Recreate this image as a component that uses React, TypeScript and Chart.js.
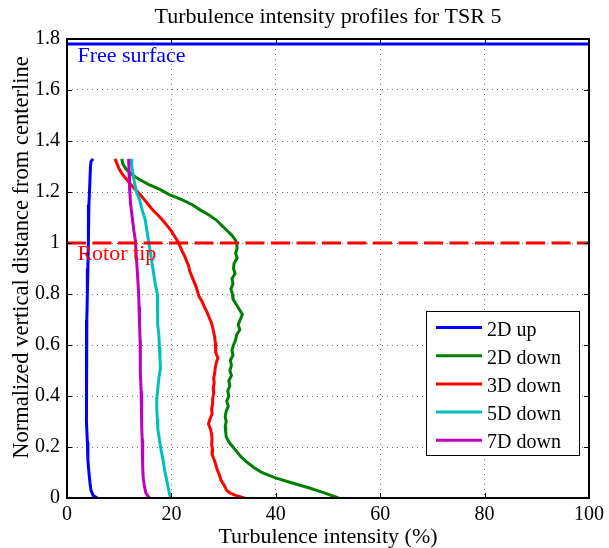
import { useEffect, useRef } from "react";
import { Chart, registerables } from "chart.js";

Chart.register(...registerables);

const chartTitle = "Turbulence intensity profiles for TSR 5";
const xAxisLabel = "Turbulence intensity (%)";
const yAxisLabel = "Normalized vertical distance from centerline";

const seriesLabels = ["2D up", "2D down", "3D down", "5D down", "7D down"];
const seriesColors = ["#0000ff", "#008000", "#ff0000", "#00bfbf", "#bf00bf"];

const up2dY = [1.33, 1.32, 1.3, 1.25, 1.15, 1.01, 0.9, 0.8, 0.7, 0.6, 0.5, 0.4, 0.3, 0.22, 0.15, 0.1, 0.06, 0.03, 0.01, 0];
const up2dX = [5.0, 4.6, 4.5, 4.4, 4.2, 4.1, 4.0, 3.9, 3.8, 3.7, 3.7, 3.7, 3.8, 3.9, 4.0, 4.2, 4.4, 4.6, 5.0, 5.8];

const down2dY = [1.33, 1.31, 1.29, 1.27, 1.25, 1.23, 1.21, 1.19, 1.17, 1.15, 1.13, 1.11, 1.09, 1.07, 1.05, 1.03, 1.01, 1.0,
  0.98, 0.96, 0.94, 0.92, 0.9, 0.88, 0.86, 0.84, 0.82, 0.8, 0.78, 0.76, 0.74, 0.72, 0.7, 0.68, 0.66, 0.64, 0.62, 0.6,
  0.58, 0.56, 0.54, 0.52, 0.5, 0.48, 0.46, 0.44, 0.42, 0.4, 0.38, 0.36, 0.34, 0.32, 0.3, 0.28, 0.26, 0.24, 0.22, 0.2,
  0.18, 0.16, 0.14, 0.12, 0.1, 0.08, 0.06, 0.04, 0.02, 0];
const down2dX = [10.5, 10.7, 11.3, 12.3, 13.8, 15.6, 17.8, 19.6, 22.0, 24.0, 25.5, 27.2, 28.6, 29.6, 30.6, 31.6, 32.3, 32.5,
  32.6, 32.3, 32.6, 32.0, 31.9, 32.2, 31.6, 31.8, 31.4, 31.7, 31.8, 32.4, 33.0, 33.6, 33.2, 32.8, 33.1, 32.5, 32.3, 31.9,
  31.6, 31.8, 31.3, 31.5, 31.2, 31.5, 31.0, 31.2, 30.8, 31.0, 30.6, 30.9, 30.5, 30.3, 30.5, 30.3, 30.4, 30.5, 31.0, 31.8,
  32.6, 33.4, 34.5, 35.8, 37.3, 39.8, 43.0, 46.3, 49.3, 52.0];

const down3dY = [1.33, 1.31, 1.29, 1.27, 1.25, 1.23, 1.21, 1.19, 1.17, 1.15, 1.13, 1.11, 1.09, 1.07, 1.05, 1.03, 1.01,
  0.99, 0.97, 0.95, 0.93, 0.91, 0.89, 0.87, 0.85, 0.83, 0.81, 0.79, 0.77, 0.75, 0.73, 0.71, 0.69, 0.67, 0.65, 0.63, 0.61,
  0.59, 0.57, 0.55, 0.53, 0.51, 0.49, 0.47, 0.45, 0.43, 0.41, 0.39, 0.37, 0.35, 0.33, 0.31, 0.29, 0.27, 0.25, 0.23, 0.21,
  0.19, 0.17, 0.15, 0.13, 0.11, 0.09, 0.07, 0.05, 0.03, 0.02, 0.01, 0];
const down3dX = [9.2, 9.6, 10.0, 10.6, 11.4, 12.2, 13.1, 14.0, 14.8, 15.6, 16.4, 17.4, 18.3, 19.1, 19.9, 20.5, 21.1,
  21.6, 22.0, 22.5, 22.9, 23.3, 23.5, 23.9, 24.3, 24.7, 25.0, 25.3, 25.9, 26.3, 26.8, 27.2, 27.6, 27.9, 28.1, 28.3, 28.4,
  28.5, 28.5, 28.9, 28.6, 28.4, 28.3, 28.1, 28.2, 28.0, 28.1, 27.9, 27.9, 27.7, 27.8, 27.4, 27.1, 27.5, 27.7, 27.8, 27.7,
  27.9, 27.8, 28.2, 28.5, 28.8, 29.2, 29.5, 30.1, 30.6, 31.2, 32.3, 34.0];

const down5dY = [1.33, 1.3, 1.25, 1.2, 1.17, 1.13, 1.09, 1.05, 1.01, 0.96, 0.92, 0.88, 0.84, 0.8, 0.77, 0.73, 0.68, 0.64,
  0.59, 0.55, 0.51, 0.47, 0.43, 0.39, 0.35, 0.31, 0.27, 0.23, 0.19, 0.15, 0.11, 0.08, 0.05, 0.03, 0.01, 0];
const down5dX = [12.3, 12.4, 12.8, 13.3, 13.9, 14.4, 15.0, 15.3, 15.6, 16.0, 16.3, 16.6, 16.9, 17.3, 17.4, 17.3, 17.4, 17.6,
  17.7, 17.8, 17.9, 17.6, 17.4, 17.2, 17.2, 17.3, 17.4, 17.7, 18.0, 18.4, 18.7, 19.0, 19.3, 19.5, 19.7, 19.8];

const down7dY = [1.33, 1.27, 1.21, 1.15, 1.1, 1.05, 1.01, 0.94, 0.88, 0.81, 0.75, 0.68, 0.62, 0.55, 0.49, 0.42, 0.36, 0.29,
  0.23, 0.17, 0.12, 0.08, 0.05, 0.02, 0.01, 0];
const down7dX = [11.8, 11.9, 12.0, 12.2, 12.5, 12.8, 13.1, 13.3, 13.5, 13.7, 13.8, 13.9, 14.0, 14.0, 14.1, 14.2, 14.3, 14.3,
  14.4, 14.5, 14.5, 14.6, 14.8, 15.1, 15.4, 15.8];

const seriesX = [up2dX, down2dX, down3dX, down5dX, down7dX];
const seriesY = [up2dY, down2dY, down3dY, down5dY, down7dY];

const freeSurfaceLevel = 1.78;
const rotorTipLevel = 1.0;
const freeSurfaceText = "Free surface";
const rotorTipText = "Rotor tip";
const xRange = [0, 100];

const xTicks = [0, 20, 40, 60, 80, 100];
const yTicks = [0, 0.2, 0.4, 0.6, 0.8, 1, 1.2, 1.4, 1.6, 1.8];

const SERIF = "'Liberation Serif', 'Times New Roman', serif";

const decorPlugin = {
  id: "decor",
  afterDraw(chart: any) {
    const { ctx, chartArea: a, scales } = chart;
    const xs = scales.x;
    const ys = scales.y;
    ctx.save();
    const seg = (x1: number, y1: number, x2: number, y2: number) => {
      ctx.beginPath();
      ctx.moveTo(x1, y1);
      ctx.lineTo(x2, y2);
      ctx.stroke();
    };
    // inward ticks
    ctx.strokeStyle = "#000";
    ctx.lineWidth = 1;
    const tl = 5;
    xTicks.forEach((v) => {
      const px = Math.round(xs.getPixelForValue(v)) + 0.5;
      seg(px, a.bottom, px, a.bottom - tl);
      seg(px, a.top, px, a.top + tl);
    });
    yTicks.forEach((v) => {
      const py = Math.round(ys.getPixelForValue(v)) + 0.5;
      seg(a.left, py, a.left + tl, py);
      seg(a.right, py, a.right - tl, py);
    });
    // frame
    ctx.lineWidth = 2;
    ctx.strokeRect(a.left, a.top, a.right - a.left, a.bottom - a.top);

    // annotations
    ctx.font = `22px ${SERIF}`;
    ctx.textAlign = "left";
    ctx.textBaseline = "alphabetic";
    ctx.fillStyle = seriesColors[0];
    ctx.fillText(freeSurfaceText, xs.getPixelForValue(2), ys.getPixelForValue(freeSurfaceLevel) + 18);
    ctx.fillStyle = seriesColors[2];
    ctx.fillText(rotorTipText, xs.getPixelForValue(2), ys.getPixelForValue(rotorTipLevel) + 17);

    // title and axis labels
    ctx.fillStyle = "#000";
    ctx.textAlign = "center";
    const cx = (a.left + a.right) / 2;
    ctx.fillText(chartTitle, cx, a.top - 16);
    ctx.fillText(xAxisLabel, cx, a.bottom + 45);
    ctx.save();
    ctx.font = `22.5px ${SERIF}`;
    ctx.translate(a.left - 39, (a.top + a.bottom) / 2 - 11);
    ctx.rotate(-Math.PI / 2);
    ctx.fillText(yAxisLabel, 0, 0);
    ctx.restore();

    // legend
    const lx = a.right - 163;
    const ly = a.top + 272;
    const lw = 153;
    const lh = 144;
    ctx.fillStyle = "#fff";
    ctx.fillRect(lx, ly, lw, lh);
    ctx.strokeStyle = "#000";
    ctx.lineWidth = 1;
    ctx.strokeRect(lx + 0.5, ly + 0.5, lw, lh);
    ctx.font = `20px ${SERIF}`;
    ctx.textAlign = "left";
    seriesLabels.forEach((lab, i) => {
      const ry = ly + 16.5 + i * 28.2;
      ctx.strokeStyle = seriesColors[i];
      ctx.lineWidth = 3;
      seg(lx + 10, ry, lx + 56, ry);
      ctx.fillStyle = "#000";
      ctx.fillText(lab, lx + 61, ry + 8);
    });
    ctx.restore();
  },
};

export default function App() {
  const ref = useRef<HTMLCanvasElement | null>(null);
  useEffect(() => {
    if (!ref.current) return;
    const datasets: any[] = seriesLabels.map((lab, i) => ({
      label: lab,
      data: seriesX[i].map((xv, k) => ({ x: xv, y: seriesY[i][k] })),
      borderColor: seriesColors[i],
      backgroundColor: seriesColors[i],
      borderWidth: 3,
      pointRadius: 0,
      showLine: true,
      fill: false,
      tension: 0,
      order: -i,
    }));
    datasets.push({
      label: freeSurfaceText,
      data: xRange.map((xv) => ({ x: xv, y: freeSurfaceLevel })),
      borderColor: seriesColors[0],
      borderWidth: 3,
      pointRadius: 0,
      showLine: true,
      order: -10,
    });
    datasets.push({
      label: rotorTipText,
      data: xRange.map((xv) => ({ x: xv, y: rotorTipLevel })),
      borderColor: seriesColors[2],
      borderWidth: 3,
      borderDash: [19, 6.5],
      borderCapStyle: "butt",
      pointRadius: 0,
      showLine: true,
      order: -10,
    });
    const chart = new Chart(ref.current, {
      type: "scatter",
      data: { datasets },
      options: {
        animation: false,
        responsive: false,
        maintainAspectRatio: false,
        layout: { padding: { top: 39, right: 19, left: 0, bottom: 0 } },
        plugins: {
          legend: { display: false },
          title: { display: false },
          tooltip: { enabled: false },
        },
        scales: {
          x: {
            type: "linear",
            min: 0,
            max: 100,
            afterFit: (s: any) => {
              s.height = 50;
            },
            afterBuildTicks: (s: any) => {
              s.ticks = xTicks.map((v) => ({ value: v }));
            },
            grid: { color: "rgba(0,0,0,0.55)", lineWidth: 1, drawTicks: false },
            border: { display: false, dash: [1, 4] },
            ticks: {
              color: "#000",
              font: { family: SERIF, size: 20 },
              padding: 5,
              maxRotation: 0,
              autoSkip: false,
              callback: (v: any) => String(v),
            },
          },
          y: {
            type: "linear",
            min: 0,
            max: 1.8,
            afterFit: (s: any) => {
              s.width = 67;
            },
            afterBuildTicks: (s: any) => {
              s.ticks = yTicks.map((v) => ({ value: v }));
            },
            grid: { color: "rgba(0,0,0,0.55)", lineWidth: 1, drawTicks: false },
            border: { display: false, dash: [1, 4] },
            ticks: {
              color: "#000",
              font: { family: SERIF, size: 20 },
              padding: 7,
              autoSkip: false,
              callback: (v: any) => String(Number(Number(v).toFixed(1))),
            },
          },
        },
      },
      plugins: [decorPlugin],
    });
    return () => chart.destroy();
  }, []);
  return (
    <div style={{ position: "absolute", left: 0, top: 0, width: 609, height: 548, background: "#fff" }}>
      <canvas ref={ref} width={609} height={548} style={{ display: "block", width: 609, height: 548 }} />
    </div>
  );
}
